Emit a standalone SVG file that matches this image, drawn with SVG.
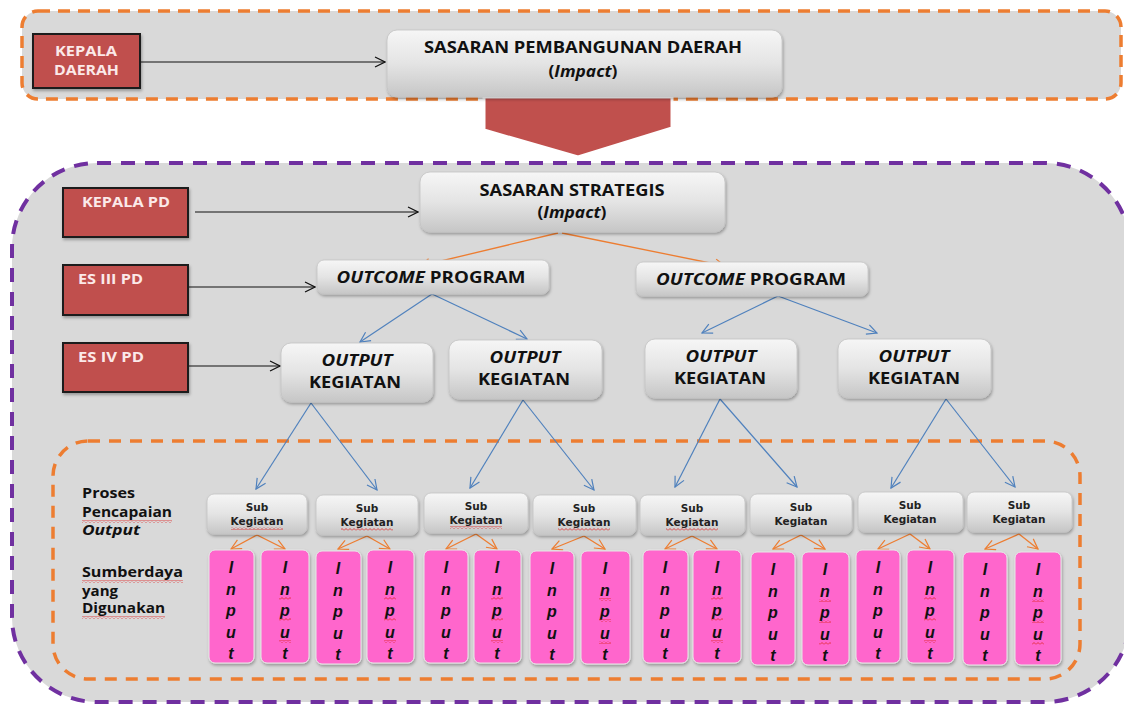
<svg xmlns="http://www.w3.org/2000/svg" width="1124" height="706" viewBox="0 0 1124 706">
<defs>
<linearGradient id="ng" x1="0" y1="0" x2="0" y2="1">
<stop offset="0" stop-color="#f6f6f6"/><stop offset="0.5" stop-color="#e4e4e4"/><stop offset="1" stop-color="#c6c6c6"/>
</linearGradient>
<filter id="sh" x="-10%" y="-10%" width="130%" height="140%">
<feDropShadow dx="1" dy="2" stdDeviation="1.5" flood-color="#000" flood-opacity="0.3"/>
</filter>
<pattern id="sq" width="4" height="3" patternUnits="userSpaceOnUse">
<path d="M0,2.5 L2,0.5 L4,2.5" fill="none" stroke="#e02020" stroke-width="0.8"/>
</pattern>
<marker id="ab" viewBox="0 0 12 12" markerWidth="12" markerHeight="12" refX="11" refY="6" orient="auto" markerUnits="userSpaceOnUse">
<path d="M1,1 L11,6 L1,11" fill="none" stroke="#111" stroke-width="1.2"/>
</marker>
<marker id="ao" viewBox="0 0 12 12" markerWidth="12" markerHeight="12" refX="11" refY="6" orient="auto" markerUnits="userSpaceOnUse">
<path d="M1,1 L11,6 L1,11" fill="none" stroke="#ed7d31" stroke-width="1.2"/>
</marker>
<marker id="al" viewBox="0 0 12 12" markerWidth="12" markerHeight="12" refX="11" refY="6" orient="auto" markerUnits="userSpaceOnUse">
<path d="M1,1 L11,6 L1,11" fill="none" stroke="#4f81bd" stroke-width="1.2"/>
</marker>
<style>
.node{fill:url(#ng);stroke:#c4c4c4;stroke-width:0.8;filter:url(#sh)}
.red{fill:#c0504d;stroke:#1f1f1f;stroke-width:2;filter:url(#sh)}
.inp{fill:#ff66cc;stroke:#e8e8e8;stroke-width:1;filter:url(#sh)}
.t{font-family:"Open Sans","Liberation Sans",sans-serif;font-weight:bold;fill:#111;text-anchor:middle;font-size:16px}
.rt{font-family:"Open Sans","Liberation Sans",sans-serif;font-weight:bold;fill:#fbe9e9;font-size:13.5px}
.lt{font-family:"Open Sans","Liberation Sans",sans-serif;font-weight:bold;fill:#111;font-size:14px}
.st{font-family:"DejaVu Sans",sans-serif;font-weight:bold;fill:#222;font-size:10.5px;text-anchor:middle}
.it{font-family:"Liberation Sans",sans-serif;font-weight:bold;font-style:italic;fill:#111;font-size:16px;text-anchor:middle}
.cb{stroke:#111;stroke-width:1.2;fill:none;marker-end:url(#ab)}
.co{stroke:#ed7d31;stroke-width:1.3;fill:none;marker-end:url(#ao)}
.cl{stroke:#4f81bd;stroke-width:1.2;fill:none;marker-end:url(#al)}
</style>
</defs>

<g id="containers">
<rect x="22" y="11" width="1099" height="88" rx="16" fill="#d9d9d9" stroke="#ed7d31" stroke-width="3.5" stroke-dasharray="12 8"/>
<rect x="12" y="163" width="1118" height="539" rx="85" fill="#d9d9d9" stroke="#7030a0" stroke-width="4" stroke-dasharray="14 10"/>
<rect x="53" y="441" width="1027" height="238" rx="35" fill="none" stroke="#ed7d31" stroke-width="3.5" stroke-dasharray="12 9"/>
<polygon points="484,97 484,130 578,157 672,128 672,97" fill="#c0504d" stroke="#ffffff" stroke-width="3"/>
</g>

<g id="connectors">
<line class="cb" x1="141" y1="62" x2="385" y2="62"/>
<line class="cb" x1="195" y1="212" x2="418" y2="212"/>
<line class="cb" x1="189" y1="287" x2="315" y2="287"/>
<line class="cb" x1="189" y1="366" x2="280" y2="366"/>
<line class="co" x1="558" y1="233" x2="420" y2="266"/>
<line class="co" x1="562" y1="233" x2="725" y2="266"/>
<line class="cl" x1="432" y1="294" x2="360" y2="342"/>
<line class="cl" x1="432" y1="294" x2="527" y2="339"/>
<line class="cl" x1="778" y1="296" x2="702" y2="333"/>
<line class="cl" x1="778" y1="296" x2="877" y2="333"/>
<line class="cl" x1="311" y1="403" x2="256" y2="489"/>
<line class="cl" x1="311" y1="403" x2="377" y2="490"/>
<line class="cl" x1="523" y1="400" x2="470" y2="488"/>
<line class="cl" x1="523" y1="400" x2="594" y2="490"/>
<line class="cl" x1="720" y1="399" x2="675" y2="487"/>
<line class="cl" x1="720" y1="399" x2="797" y2="487"/>
<line class="cl" x1="946" y1="399" x2="891" y2="488"/>
<line class="cl" x1="946" y1="399" x2="1015" y2="487"/>
<line class="co" x1="257" y1="535" x2="231" y2="549"/>
<line class="co" x1="257" y1="535" x2="285" y2="549"/>
<line class="co" x1="367" y1="536" x2="338" y2="549"/>
<line class="co" x1="367" y1="536" x2="390" y2="549"/>
<line class="co" x1="476" y1="534" x2="446" y2="549"/>
<line class="co" x1="476" y1="534" x2="497" y2="549"/>
<line class="co" x1="584" y1="536" x2="552" y2="549"/>
<line class="co" x1="584" y1="536" x2="605" y2="549"/>
<line class="co" x1="692" y1="536" x2="665" y2="549"/>
<line class="co" x1="692" y1="536" x2="717" y2="549"/>
<line class="co" x1="801" y1="535" x2="773" y2="549"/>
<line class="co" x1="801" y1="535" x2="825" y2="549"/>
<line class="co" x1="910" y1="534" x2="878" y2="549"/>
<line class="co" x1="910" y1="534" x2="930" y2="549"/>
<line class="co" x1="1019" y1="534" x2="985" y2="549"/>
<line class="co" x1="1019" y1="534" x2="1038" y2="549"/>
</g>

<g id="kepala-daerah">
<rect class="red" x="33" y="34" width="107" height="54"/>
<text class="rt" x="55" y="56" textLength="62" lengthAdjust="spacingAndGlyphs">KEPALA</text>
<text class="rt" x="54" y="75" textLength="65" lengthAdjust="spacingAndGlyphs">DAERAH</text>
</g>
<g id="sasaran-pembangunan">
<rect class="node" x="387" y="30" width="395" height="67" rx="10"/>
<text class="t" x="583" y="53" textLength="318" lengthAdjust="spacingAndGlyphs">SASARAN PEMBANGUNAN DAERAH</text>
<text class="t" x="583" y="77" textLength="69" lengthAdjust="spacingAndGlyphs">(<tspan font-style="italic">Impact</tspan>)</text>
</g>

<g id="kepala-pd">
<rect class="red" x="63" y="188" width="125" height="49"/>
<text class="rt" x="82" y="207" textLength="88" lengthAdjust="spacingAndGlyphs">KEPALA PD</text>
</g>
<g id="es3">
<rect class="red" x="63" y="265" width="125" height="50"/>
<text class="rt" x="78" y="284" textLength="65" lengthAdjust="spacingAndGlyphs">ES III PD</text>
</g>
<g id="es4">
<rect class="red" x="63" y="343" width="125" height="49"/>
<text class="rt" x="78" y="362" textLength="66" lengthAdjust="spacingAndGlyphs">ES IV PD</text>
</g>

<g id="sasaran-strategis">
<rect class="node" x="420" y="172" width="305" height="60" rx="10"/>
<text class="t" x="572" y="196" textLength="185" lengthAdjust="spacingAndGlyphs">SASARAN STRATEGIS</text>
<text class="t" x="572" y="218" textLength="69" lengthAdjust="spacingAndGlyphs">(<tspan font-style="italic">Impact</tspan>)</text>
</g>

<g id="outcome-1">
<rect class="node" x="317" y="260" width="232" height="34" rx="7"/>
<text class="t" x="431" y="283" textLength="189" lengthAdjust="spacingAndGlyphs"><tspan font-style="italic">OUTCOME</tspan>  PROGRAM</text>
</g>
<g id="outcome-2">
<rect class="node" x="636" y="262" width="232" height="34" rx="7"/>
<text class="t" x="751" y="285" textLength="190" lengthAdjust="spacingAndGlyphs"><tspan font-style="italic">OUTCOME</tspan>  PROGRAM</text>
</g>

<g id="output-1">
<rect class="node" x="281" y="343" width="152" height="59" rx="10"/>
<text class="t" x="357" y="366" font-style="italic" textLength="71" lengthAdjust="spacingAndGlyphs">OUTPUT</text>
<text class="t" x="355" y="388" textLength="92" lengthAdjust="spacingAndGlyphs">KEGIATAN</text>
</g>
<g id="output-2">
<rect class="node" x="449" y="340" width="153" height="59" rx="10"/>
<text class="t" x="525" y="363" font-style="italic" textLength="71" lengthAdjust="spacingAndGlyphs">OUTPUT</text>
<text class="t" x="524" y="385" textLength="92" lengthAdjust="spacingAndGlyphs">KEGIATAN</text>
</g>
<g id="output-3">
<rect class="node" x="645" y="339" width="152" height="59" rx="10"/>
<text class="t" x="721" y="362" font-style="italic" textLength="71" lengthAdjust="spacingAndGlyphs">OUTPUT</text>
<text class="t" x="720" y="384" textLength="92" lengthAdjust="spacingAndGlyphs">KEGIATAN</text>
</g>
<g id="output-4">
<rect class="node" x="838" y="339" width="153" height="59" rx="10"/>
<text class="t" x="914" y="362" font-style="italic" textLength="71" lengthAdjust="spacingAndGlyphs">OUTPUT</text>
<text class="t" x="914" y="384" textLength="92" lengthAdjust="spacingAndGlyphs">KEGIATAN</text>
</g>

<g id="labels">
<text class="lt" x="82" y="498" textLength="53" lengthAdjust="spacingAndGlyphs">Proses</text>
<text class="lt" x="82" y="517" textLength="90" lengthAdjust="spacingAndGlyphs">Pencapaian</text>
<rect x="82" y="520" width="90" height="3" fill="url(#sq)"/>
<text class="lt" x="82" y="535" font-style="italic" textLength="58" lengthAdjust="spacingAndGlyphs">Output</text>
<text class="lt" x="82" y="577" textLength="101" lengthAdjust="spacingAndGlyphs">Sumberdaya</text>
<rect x="82" y="580" width="101" height="3" fill="url(#sq)"/>
<text class="lt" x="82" y="596" textLength="36" lengthAdjust="spacingAndGlyphs">yang</text>
<text class="lt" x="82" y="613" textLength="83" lengthAdjust="spacingAndGlyphs">Digunakan</text>
<rect x="82" y="616" width="83" height="3" fill="url(#sq)"/>
</g>

<g id="sub-1"><rect class="node" x="207" y="494" width="100" height="40" rx="7"/><text class="st" x="257" y="511">Sub</text><text class="st" x="257" y="525">Kegiatan</text><rect x="231" y="527" width="52" height="3" fill="url(#sq)"/></g>
<g id="sub-2"><rect class="node" x="316" y="495" width="102" height="40" rx="7"/><text class="st" x="367" y="512">Sub</text><text class="st" x="367" y="526">Kegiatan</text><rect x="341" y="528" width="52" height="3" fill="url(#sq)"/></g>
<g id="sub-3"><rect class="node" x="424" y="493" width="104" height="40" rx="7"/><text class="st" x="476" y="510">Sub</text><text class="st" x="476" y="524">Kegiatan</text><rect x="450" y="526" width="52" height="3" fill="url(#sq)"/></g>
<g id="sub-4"><rect class="node" x="533" y="495" width="103" height="40" rx="7"/><text class="st" x="584" y="512">Sub</text><text class="st" x="584" y="526">Kegiatan</text><rect x="558" y="528" width="52" height="3" fill="url(#sq)"/></g>
<g id="sub-5"><rect class="node" x="640" y="495" width="105" height="40" rx="7"/><text class="st" x="692" y="512">Sub</text><text class="st" x="692" y="526">Kegiatan</text><rect x="666" y="528" width="52" height="3" fill="url(#sq)"/></g>
<g id="sub-6"><rect class="node" x="750" y="494" width="102" height="40" rx="7"/><text class="st" x="801" y="511">Sub</text><text class="st" x="801" y="525">Kegiatan</text></g>
<g id="sub-7"><rect class="node" x="858" y="492" width="105" height="40" rx="7"/><text class="st" x="910" y="509">Sub</text><text class="st" x="910" y="523">Kegiatan</text></g>
<g id="sub-8"><rect class="node" x="967" y="492" width="105" height="40" rx="7"/><text class="st" x="1019" y="509">Sub</text><text class="st" x="1019" y="523">Kegiatan</text></g>

<g id="input-1"><rect class="inp" x="209" y="550" width="45" height="113" rx="6"/><text class="it" x="231" y="573">I</text><text class="it" x="231" y="595">n</text><text class="it" x="231" y="616">p</text><text class="it" x="231" y="638">u</text><text class="it" x="231" y="659">t</text></g>
<g id="input-2"><rect class="inp" x="261" y="550" width="48" height="113" rx="6"/><text class="it" x="285" y="573">I</text><text class="it" x="285" y="595">n</text><text class="it" x="285" y="616">p</text><text class="it" x="285" y="638">u</text><text class="it" x="285" y="659">t</text><rect x="279" y="597" width="12" height="3" fill="url(#sq)"/><rect x="279" y="618" width="12" height="3" fill="url(#sq)"/><rect x="279" y="640" width="12" height="3" fill="url(#sq)"/></g>
<g id="input-3"><rect class="inp" x="316" y="551" width="45" height="113" rx="6"/><text class="it" x="338" y="574">I</text><text class="it" x="338" y="596">n</text><text class="it" x="338" y="617">p</text><text class="it" x="338" y="639">u</text><text class="it" x="338" y="660">t</text></g>
<g id="input-4"><rect class="inp" x="367" y="550" width="47" height="113" rx="6"/><text class="it" x="390" y="573">I</text><text class="it" x="390" y="595">n</text><text class="it" x="390" y="616">p</text><text class="it" x="390" y="638">u</text><text class="it" x="390" y="659">t</text><rect x="384" y="597" width="12" height="3" fill="url(#sq)"/><rect x="384" y="618" width="12" height="3" fill="url(#sq)"/><rect x="384" y="640" width="12" height="3" fill="url(#sq)"/></g>
<g id="input-5"><rect class="inp" x="424" y="550" width="44" height="113" rx="6"/><text class="it" x="446" y="573">I</text><text class="it" x="446" y="595">n</text><text class="it" x="446" y="616">p</text><text class="it" x="446" y="638">u</text><text class="it" x="446" y="659">t</text></g>
<g id="input-6"><rect class="inp" x="474" y="550" width="47" height="113" rx="6"/><text class="it" x="497" y="573">I</text><text class="it" x="497" y="595">n</text><text class="it" x="497" y="616">p</text><text class="it" x="497" y="638">u</text><text class="it" x="497" y="659">t</text><rect x="491" y="597" width="12" height="3" fill="url(#sq)"/><rect x="491" y="618" width="12" height="3" fill="url(#sq)"/><rect x="491" y="640" width="12" height="3" fill="url(#sq)"/></g>
<g id="input-7"><rect class="inp" x="530" y="551" width="44" height="113" rx="6"/><text class="it" x="552" y="574">I</text><text class="it" x="552" y="596">n</text><text class="it" x="552" y="617">p</text><text class="it" x="552" y="639">u</text><text class="it" x="552" y="660">t</text></g>
<g id="input-8"><rect class="inp" x="581" y="551" width="49" height="113" rx="6"/><text class="it" x="605" y="574">I</text><text class="it" x="605" y="596">n</text><text class="it" x="605" y="617">p</text><text class="it" x="605" y="639">u</text><text class="it" x="605" y="660">t</text><rect x="599" y="598" width="12" height="3" fill="url(#sq)"/><rect x="599" y="619" width="12" height="3" fill="url(#sq)"/><rect x="599" y="641" width="12" height="3" fill="url(#sq)"/></g>
<g id="input-9"><rect class="inp" x="643" y="550" width="45" height="113" rx="6"/><text class="it" x="665" y="573">I</text><text class="it" x="665" y="595">n</text><text class="it" x="665" y="616">p</text><text class="it" x="665" y="638">u</text><text class="it" x="665" y="659">t</text></g>
<g id="input-10"><rect class="inp" x="693" y="550" width="48" height="113" rx="6"/><text class="it" x="717" y="573">I</text><text class="it" x="717" y="595">n</text><text class="it" x="717" y="616">p</text><text class="it" x="717" y="638">u</text><text class="it" x="717" y="659">t</text><rect x="711" y="597" width="12" height="3" fill="url(#sq)"/><rect x="711" y="618" width="12" height="3" fill="url(#sq)"/><rect x="711" y="640" width="12" height="3" fill="url(#sq)"/></g>
<g id="input-11"><rect class="inp" x="751" y="552" width="44" height="113" rx="6"/><text class="it" x="773" y="575">I</text><text class="it" x="773" y="597">n</text><text class="it" x="773" y="618">p</text><text class="it" x="773" y="640">u</text><text class="it" x="773" y="661">t</text></g>
<g id="input-12"><rect class="inp" x="802" y="552" width="47" height="113" rx="6"/><text class="it" x="825" y="575">I</text><text class="it" x="825" y="597">n</text><text class="it" x="825" y="618">p</text><text class="it" x="825" y="640">u</text><text class="it" x="825" y="661">t</text><rect x="819" y="599" width="12" height="3" fill="url(#sq)"/><rect x="819" y="620" width="12" height="3" fill="url(#sq)"/><rect x="819" y="642" width="12" height="3" fill="url(#sq)"/></g>
<g id="input-13"><rect class="inp" x="856" y="550" width="44" height="113" rx="6"/><text class="it" x="878" y="573">I</text><text class="it" x="878" y="595">n</text><text class="it" x="878" y="616">p</text><text class="it" x="878" y="638">u</text><text class="it" x="878" y="659">t</text></g>
<g id="input-14"><rect class="inp" x="907" y="550" width="47" height="113" rx="6"/><text class="it" x="930" y="573">I</text><text class="it" x="930" y="595">n</text><text class="it" x="930" y="616">p</text><text class="it" x="930" y="638">u</text><text class="it" x="930" y="659">t</text><rect x="924" y="597" width="12" height="3" fill="url(#sq)"/><rect x="924" y="618" width="12" height="3" fill="url(#sq)"/><rect x="924" y="640" width="12" height="3" fill="url(#sq)"/></g>
<g id="input-15"><rect class="inp" x="963" y="552" width="44" height="113" rx="6"/><text class="it" x="985" y="575">I</text><text class="it" x="985" y="597">n</text><text class="it" x="985" y="618">p</text><text class="it" x="985" y="640">u</text><text class="it" x="985" y="661">t</text></g>
<g id="input-16"><rect class="inp" x="1015" y="552" width="46" height="113" rx="6"/><text class="it" x="1038" y="575">I</text><text class="it" x="1038" y="597">n</text><text class="it" x="1038" y="618">p</text><text class="it" x="1038" y="640">u</text><text class="it" x="1038" y="661">t</text><rect x="1032" y="599" width="12" height="3" fill="url(#sq)"/><rect x="1032" y="620" width="12" height="3" fill="url(#sq)"/><rect x="1032" y="642" width="12" height="3" fill="url(#sq)"/></g>
</svg>
